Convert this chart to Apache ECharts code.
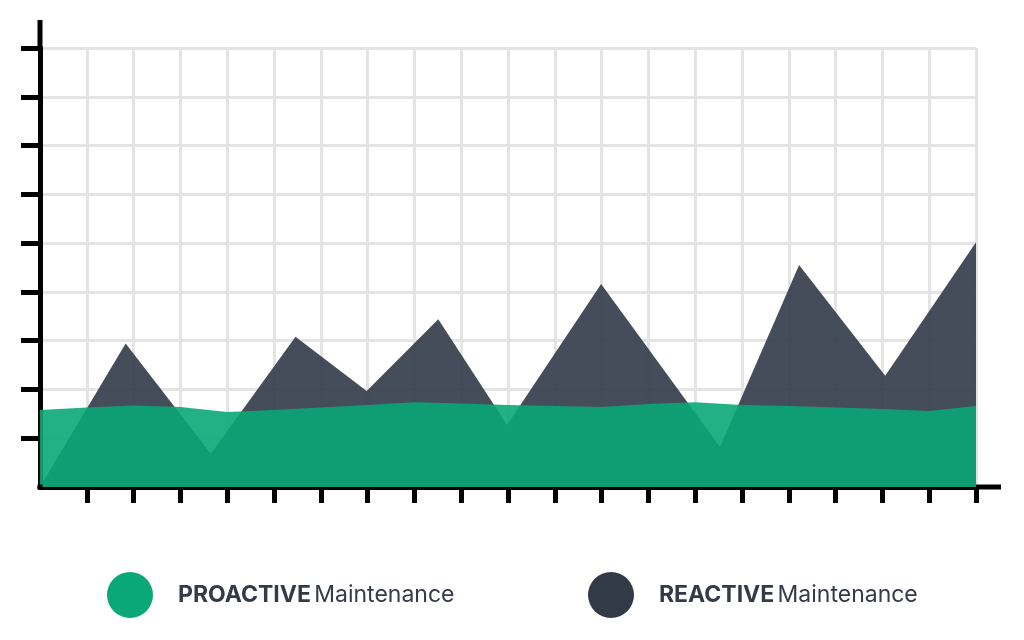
<!DOCTYPE html>
<html>
<head>
<meta charset="utf-8">
<script src="https://cdn.jsdelivr.net/npm/echarts@6/dist/echarts.min.js"></script>
<style>html,body{margin:0;padding:0;background:#fff}#c{width:1024px;height:640px}</style>
</head>
<body>
<div id="c"></div>
<script>
// Proactive maintenance values at each of the 21 x positions (0..20)
const proactiveX = [0,1,2,3,4,5,6,7,8,9,10,11,12,13,14,15,16,17,18,19,20];
const proactiveValues = [1.58,1.63,1.67,1.64,1.54,1.58,1.63,1.68,1.74,1.71,1.68,1.66,1.64,1.70,1.74,1.68,1.66,1.63,1.60,1.56,1.66];
// Reactive maintenance vertices (x in same units, irregular)
const reactiveX = [0,1.83,3.65,5.46,6.98,8.51,9.98,11.99,14.53,16.22,18.06,20];
const reactiveValues = [0,2.94,0.68,3.08,1.97,3.44,1.27,4.16,0.82,4.55,2.28,5.02];
const yTickValues = [1,2,3,4,5,6,7,8,9];
const xTickValues = [1,2,3,4,5,6,7,8,9,10,11,12,13,14,15,16,17,18,19,20];
const seriesNames = ['PROACTIVE Maintenance','REACTIVE Maintenance'];

const GREEN = '#0aa778';
const DARK = '#323a48';
const TEXT = '#333a48';

const chart = echarts.init(document.getElementById('c'), null, {renderer:'canvas'});
const legendFmt = n => { const i = n.indexOf(' '); return '{b|' + n.slice(0,i) + '} {r|' + n.slice(i+1) + '}'; };
const legendText = {
  padding:[0,0,0,20],
  rich:{
    b:{fontFamily:'Inter', fontWeight:'bold', fontSize:23, color:TEXT},
    r:{fontFamily:'Inter', fontWeight:'normal', fontSize:23, color:TEXT}
  }
};
chart.setOption({
  animation:false,
  grid:{left:40, right:48, top:48, bottom:153, containLabel:false},
  xAxis:{
    type:'value', min:0, max:20, interval:1,
    axisLine:{show:true, lineStyle:{color:'#000', width:5}},
    axisTick:{show:true, inside:false, length:16, customValues:xTickValues, lineStyle:{color:'#000', width:5}},
    axisLabel:{show:false},
    splitLine:{show:true, lineStyle:{color:'#e4e4e4', width:3}}
  },
  yAxis:{
    type:'value', min:0, max:9, interval:1,
    axisLine:{show:true, lineStyle:{color:'#000', width:5}},
    axisTick:{show:true, inside:false, length:19, customValues:yTickValues, lineStyle:{color:'#000', width:5}},
    axisLabel:{show:false},
    splitLine:{show:true, lineStyle:{color:'#e4e4e4', width:3}}
  },
  legend:[
    {data:[seriesNames[0]], left:107, top:572, padding:0, icon:'circle', itemWidth:46, itemHeight:46,
     itemStyle:{color:GREEN, borderWidth:0}, formatter:legendFmt, textStyle:legendText, selectedMode:false},
    {data:[seriesNames[1]], left:588, top:572, padding:0, icon:'circle', itemWidth:46, itemHeight:46,
     itemStyle:{color:DARK, borderWidth:0}, formatter:legendFmt, textStyle:legendText, selectedMode:false}
  ],
  series:[
    {
      name:seriesNames[1], type:'line', showSymbol:false, symbol:'none',
      data:reactiveX.map((x,i)=>[x, reactiveValues[i]]),
      itemStyle:{color:DARK},
      lineStyle:{width:0, opacity:0},
      areaStyle:{color:DARK, opacity:0.9},
      z:2
    },
    {
      name:seriesNames[0], type:'line', showSymbol:false, symbol:'none',
      data:proactiveX.map((x,i)=>[x, proactiveValues[i]]),
      itemStyle:{color:GREEN},
      lineStyle:{width:0, opacity:0},
      areaStyle:{color:GREEN, opacity:0.9},
      z:2
    }
  ]
});
// extend axis lines beyond the plotting grid (decoration)
const origin = chart.convertToPixel({gridIndex:0}, [0,0]);
const corner = chart.convertToPixel({gridIndex:0}, [20,9]);
chart.setOption({
  graphic:[
    {type:'line', shape:{x1:origin[0], y1:corner[1], x2:origin[0], y2:corner[1]-28}, style:{stroke:'#000', lineWidth:5}, z:10},
    {type:'line', shape:{x1:corner[0], y1:origin[1], x2:corner[0]+25, y2:origin[1]}, style:{stroke:'#000', lineWidth:5}, z:10},
    {type:'line', shape:{x1:origin[0]-2.5, y1:origin[1], x2:origin[0]+2.5, y2:origin[1]}, style:{stroke:'#000', lineWidth:5}, z:10}
  ]
});
</script>
</body>
</html>
